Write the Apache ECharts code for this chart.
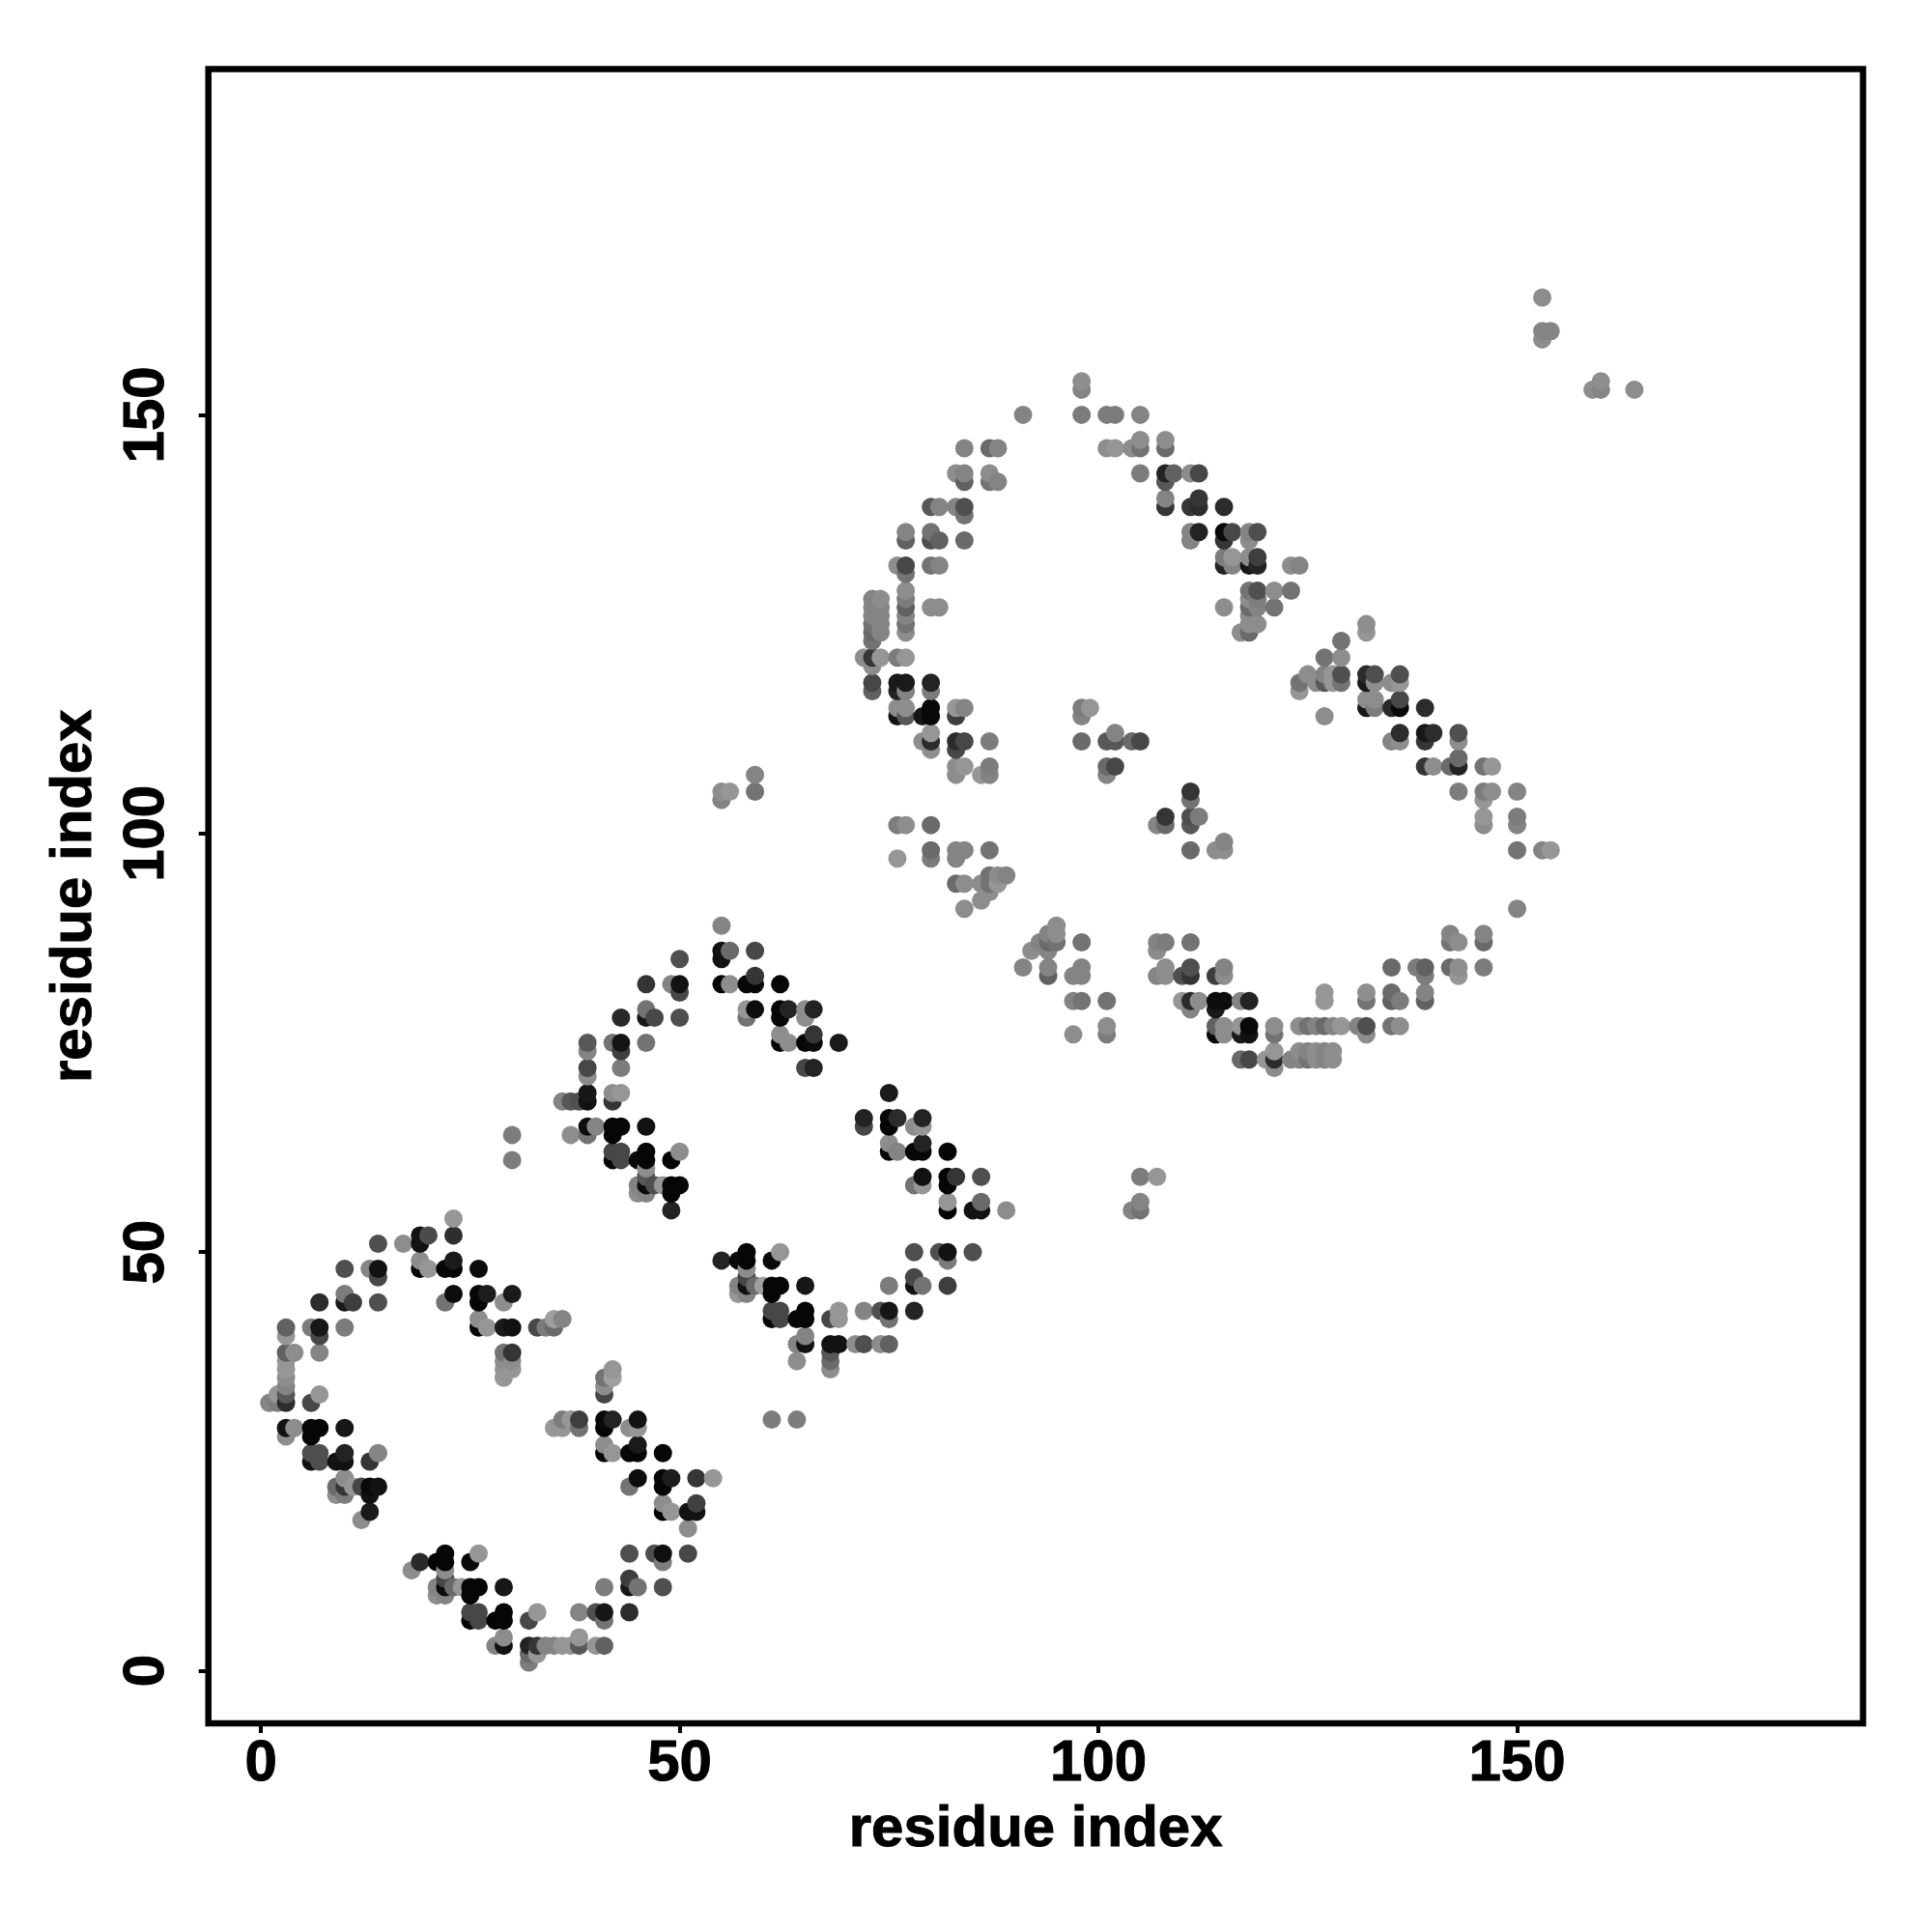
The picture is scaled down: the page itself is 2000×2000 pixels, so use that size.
<!DOCTYPE html>
<html><head><meta charset="utf-8">
<script src="https://cdn.jsdelivr.net/npm/echarts@6/dist/echarts.min.js"></script>
<style>html,body{margin:0;background:#fff}#c{width:2000px;height:2000px}</style></head>
<body><div id="c"></div>
<script>
const tickValues = [0, 50, 100, 150];
const axisTitle = 'residue index';
// each entry: [residue i, residue j, grey level]
const firstLoopTop = [
[1,32,0x78],[2,32,0x70],[2,33,0x88],[3,32,0x28],[3,33,0x50],[3,34,0x78],[3,35,0x80],[3,36,0x88],[3,37,0x88],[3,38,0x58],[3,40,0x88],[3,41,0x58],[4,38,0x80],
[6,32,0x40],[7,33,0x88],[6,41,0x70],[7,38,0x78],[7,40,0x40],[7,41,0x15],[7,44,0x28],[10,41,0x70],[10,44,0x18],[10,45,0x70],[11,44,0x38],[10,48,0x48],
[13,48,0x78],[14,44,0x48],[14,47,0x40],[14,48,0x10],[14,51,0x48],[17,51,0x80],[19,48,0x05],[19,49,0x80],[19,51,0x10],[19,52,0x10],[20,48,0x88],[20,52,0x44],
[22,44,0x68],[22,48,0x05],[23,45,0x0c],[23,48,0x05],[23,49,0x18],[23,52,0x2a],[23,54,0x88],[26,41,0x05],[26,42,0x80],[26,44,0x05],[26,45,0x05],[26,48,0x0a],
[27,41,0x88],[27,45,0x1a],[29,35,0x88],[29,36,0x88],[29,37,0x80],[29,38,0x68],[29,41,0x18],[29,44,0x80],[30,36,0x88],[30,37,0x80],[30,38,0x30],[30,41,0x10],[30,45,0x18],
[30,61,0x70],[30,64,0x70],[33,41,0x40],[34,41,0x70],[35,41,0x60],[35,42,0x90],[36,42,0x78],
[41,33,0x40],[41,34,0x80],[41,35,0x68],[42,35,0x90],[42,36,0x88]
];
const firstLoopSide = [
[3,28,0x80],[3,29,0x10],[4,29,0x80],[6,28,0x05],[6,29,0x05],[7,29,0x05],[10,29,0x15],[6,25,0x10],[6,26,0x48],[7,25,0x48],[7,26,0x48],[9,25,0x10],[10,25,0x10],[10,26,0x20],
[13,25,0x30],[14,26,0x78],[10,23,0x80],[9,21,0x80],[9,22,0x60],[10,21,0x70],[10,22,0x30],[11,22,0x88],[12,22,0x40],[13,21,0x10],[13,22,0x08],[14,22,0x10],[13,19,0x18],[12,18,0x80],
[18,12,0x80],[19,13,0x25],[21,13,0x05],[22,12,0x80],[22,13,0x05],[22,14,0x05],[25,13,0x08],[26,14,0x88],[22,11,0x40],[21,9,0x80],[21,10,0x78],[22,9,0x78],[22,10,0x0a],[23,10,0x60],[24,10,0x88],
[25,9,0x05],[25,10,0x05],[26,10,0x05],[29,10,0x15],[25,6,0x05],[25,7,0x40],[26,6,0x40],[26,7,0x40],[28,6,0x05],[29,6,0x05],[29,7,0x05],[29,4,0x80],[28,3,0x78],[29,3,0x10],
[32,1,0x70],[32,2,0x60],[32,3,0x20],[32,6,0x40],[33,2,0x88],[33,3,0x30],[33,7,0x88],[34,3,0x78],[35,3,0x78],[36,3,0x88],[37,3,0x88],[38,3,0x50],[38,4,0x88],[38,7,0x78],
[40,3,0x88],[41,3,0x58],[40,7,0x48],[41,6,0x68],[41,7,0x15],[41,10,0x70],[44,7,0x28],[44,10,0x15],[44,11,0x38],[45,10,0x68],[44,14,0x48],[47,14,0x48],[48,10,0x48],[48,13,0x70],[48,14,0x0e],[51,14,0x40],
[51,17,0x80],[48,19,0x05],[48,20,0x80],[49,19,0x88],[51,19,0x10],[52,19,0x10],[52,20,0x3a],[44,22,0x68],[45,23,0x0c],[48,22,0x05],[48,23,0x05],[49,23,0x1a],[52,23,0x30],[54,23,0x88],
[41,26,0x05],[41,27,0x80],[42,26,0x88],[44,26,0x05],[45,26,0x05],[45,27,0x18],[48,26,0x05],
[35,29,0x88],[36,29,0x88],[36,30,0x70],[37,30,0x88],[38,29,0x68],[38,30,0x38],[41,29,0x05],[41,30,0x08],[42,30,0x20],[44,29,0x80],[45,29,0x88],[45,30,0x10],
[61,30,0x70],[64,30,0x70]
];
const secondLoopTop = [
[36,68,0x78],[37,64,0x80],[37,68,0x50],[38,68,0x48],[39,64,0x68],[39,65,0x0c],[39,68,0x10],[39,69,0x15],[39,71,0x80],[39,72,0x40],[39,74,0x78],[39,75,0x50],[40,65,0x78],
[42,61,0x05],[42,62,0x40],[42,64,0x05],[42,65,0x05],[42,68,0x30],[42,69,0x80],[42,75,0x68],[43,61,0x40],[43,62,0x40],[43,65,0x05],[43,69,0x88],[43,72,0x70],[43,74,0x38],[43,75,0x12],[43,78,0x25],
[45,57,0x80],[45,58,0x78],[45,61,0x08],[46,57,0x78],[46,58,0x0a],[46,59,0x50],[46,60,0x80],[46,61,0x05],[46,62,0x05],[46,65,0x10],[46,75,0x68],[46,78,0x15],[46,79,0x68],[46,82,0x30],[47,58,0x48],[47,78,0x40],
[48,58,0x88],[49,55,0x20],[49,57,0x05],[49,58,0x05],[49,61,0x05],[49,82,0x78],[50,58,0x05],[50,62,0x80],[50,78,0x48],[50,81,0x40],[50,82,0x10],[50,85,0x48],
[55,82,0x05],[55,85,0x10],[55,86,0x10],[55,89,0x78],[56,82,0x80],[56,86,0x60],[58,78,0x68],[58,79,0x88],[58,82,0x05],[59,79,0x0c],[59,82,0x05],[59,83,0x30],[59,86,0x40],
[62,75,0x05],[62,76,0x80],[62,78,0x05],[62,79,0x05],[62,82,0x05],[63,75,0x80],[63,79,0x20],[65,72,0x40],[65,75,0x05],[65,78,0x80],[65,79,0x80],[66,72,0x20],[66,75,0x0a],[66,76,0x30],[66,79,0x20],[69,75,0x18],
[72,65,0x40],[72,66,0x20],[75,69,0x18],[75,62,0x05],[75,63,0x80],[75,65,0x05],[75,66,0x05],[76,62,0x78],[76,66,0x28],[78,62,0x05],[78,65,0x80],[79,62,0x05],[79,63,0x20],[79,65,0x88],[79,66,0x20],[82,62,0x05],
[78,58,0x68],[79,58,0x88],[79,59,0x10],[82,55,0x05],[82,56,0x88],[82,58,0x05],[82,59,0x05],[83,59,0x30],[85,55,0x10],[86,55,0x10],[86,56,0x60],[86,59,0x48],[89,55,0x80]
];
const secondLoopSide = [
[55,49,0x20],[57,45,0x88],[57,46,0x78],[57,49,0x08],[58,45,0x78],[58,46,0x10],[58,47,0x40],[58,48,0x80],[58,49,0x05],[58,50,0x05],[59,46,0x60],[60,46,0x90],
[61,42,0x05],[61,43,0x40],[61,45,0x05],[61,46,0x05],[61,49,0x08],[62,42,0x40],[62,43,0x40],[62,46,0x05],[62,50,0x88],[64,37,0x80],[64,39,0x78],[64,42,0x05],[65,39,0x10],[65,40,0x78],[65,42,0x05],[65,43,0x05],[65,46,0x15],
[68,36,0x80],[68,37,0x60],[68,38,0x50],[68,39,0x10],[68,42,0x40],[69,39,0x10],[69,42,0x88],[69,43,0x88],[71,39,0x80],[72,39,0x48],[72,43,0x78],[74,39,0x80],[74,43,0x48],[75,39,0x58],[75,42,0x68],[75,43,0x15],[75,46,0x70],
[78,43,0x20],[78,46,0x10],[78,47,0x40],[78,50,0x48],[79,46,0x68],[81,50,0x48],[82,46,0x38],[82,49,0x70],[82,50,0x10],[85,50,0x48],
[55,104,0x78],[55,105,0x80],[56,105,0x88],[59,105,0x68],[59,107,0x78],[104,55,0x78],[105,55,0x68],[105,56,0x78],[105,59,0x70],[107,59,0x88]
];
const thirdLoopTop = [
[72,121,0x80],[73,120,0x80],[73,121,0x30],[74,121,0x88],[76,121,0x70],[77,121,0x88],
[73,123,0x68],[73,124,0x60],[73,125,0x68],[73,126,0x78],[73,127,0x78],[73,128,0x78],[74,124,0x78],[74,125,0x78],[74,126,0x78],[74,127,0x78],[74,128,0x80],
[77,124,0x80],[77,125,0x68],[77,126,0x78],[77,127,0x58],[77,128,0x70],[77,129,0x80],[80,127,0x80],[81,127,0x80],[76,132,0x80],[77,131,0x68],[77,132,0x40],[80,132,0x68],[81,132,0x78],
[77,135,0x58],[77,136,0x78],[80,135,0x48],[80,136,0x68],[81,135,0x58],[84,135,0x60],[80,139,0x50],[81,139,0x78],[83,139,0x78],[84,138,0x68],[84,139,0x48],
[83,143,0x80],[84,142,0x58],[84,143,0x78],[87,142,0x68],[87,143,0x80],[88,142,0x78],[84,146,0x78],[87,146,0x60],[88,146,0x78],[91,150,0x78],
[98,150,0x70],[98,153,0x78],[98,154,0x80],[101,150,0x70],[102,150,0x70],[105,150,0x78],[101,146,0x80],[102,146,0x88],[104,146,0x80],[105,146,0x68],[105,147,0x80],[105,143,0x70],
[108,146,0x60],[108,147,0x80],[108,142,0x50],[108,143,0x20],[109,143,0x58],[111,143,0x80],[112,143,0x40],[108,139,0x30],[108,140,0x78],[111,139,0x30],[112,139,0x28],[112,140,0x30],[115,139,0x28],
[111,135,0x78],[111,136,0x78],[112,136,0x20],[115,135,0x30],[115,136,0x08],[116,136,0x40],[118,135,0x80],[118,136,0x78],[119,136,0x48],
[115,132,0x20],[115,133,0x70],[116,132,0x78],[116,133,0x88],[118,132,0x15],[118,133,0x80],[119,132,0x20],[119,133,0x38],[123,132,0x80],[124,132,0x78],
[115,127,0x80],[118,124,0x60],[117,124,0x80],[118,125,0x80],[118,126,0x80],[118,127,0x60],[118,128,0x80],[118,129,0x68],[119,125,0x80],[119,127,0x78],[119,128,0x70],[119,129,0x48],[121,127,0x68],[121,129,0x80],[123,129,0x68],
[76,114,0x10],[76,115,0x80],[76,117,0x20],[76,118,0x18],[77,114,0x50],[77,115,0x80],[77,117,0x78],[77,118,0x18],[73,117,0x58],[73,118,0x40],[79,114,0x15],[80,114,0x08],[80,115,0x08],[80,117,0x70],[80,118,0x20],
[79,111,0x80],[80,110,0x80],[80,111,0x28],[80,112,0x88],[83,110,0x40],[83,111,0x28],[83,114,0x38],[83,115,0x88],[84,111,0x40],[84,115,0x78],[87,111,0x70],
[83,107,0x80],[83,108,0x80],[84,108,0x88],[86,107,0x88],[87,107,0x78],[87,108,0x70],
[76,97,0x88],[76,101,0x70],[77,101,0x80],[80,97,0x70],[80,98,0x60],[80,101,0x60],[83,94,0x60],[83,97,0x78],[83,98,0x78],[84,91,0x80],[84,94,0x80],[84,98,0x78],[86,92,0x80],[86,94,0x80],[87,93,0x80],[87,94,0x68],[87,95,0x68],[87,98,0x68],[88,94,0x88],[88,95,0x80],[89,95,0x78]
];
const thirdLoopInner = [
[98,111,0x60],[98,114,0x78],[98,115,0x70],[99,115,0x88],[101,107,0x78],[101,108,0x60],[101,111,0x50],[102,108,0x40],[102,111,0x50],[102,112,0x78],[104,111,0x60],[105,111,0x40],
[107,101,0x78],[108,101,0x60],[108,102,0x30],[111,98,0x60],[111,101,0x50],[111,102,0x48],[111,104,0x68],[111,105,0x30],[112,102,0x70],[114,98,0x80],[115,98,0x80],[115,99,0x78],
[91,84,0x78],[92,86,0x80],[93,87,0x78],[94,83,0x58],[94,84,0x78],[94,86,0x78],[94,87,0x60],[94,88,0x78],[95,87,0x68],[95,88,0x80],[95,89,0x80],[98,87,0x68],[97,83,0x78],[98,83,0x78],[98,84,0x78],
[97,76,0x80],[97,80,0x78],[98,80,0x68],[101,76,0x70],[101,77,0x80],[101,80,0x68],
[107,83,0x78],[107,86,0x80],[107,87,0x78],[108,83,0x80],[108,84,0x80],[108,87,0x70],[111,87,0x68],[110,83,0x48],[111,83,0x30],[111,84,0x48],[114,83,0x38],[115,83,0x80],[115,84,0x78],
[110,80,0x88],[111,79,0x78],[111,80,0x28],[112,80,0x80],[114,79,0x18],[114,80,0x0c],[115,80,0x0c],[117,80,0x78],[118,80,0x20],[114,76,0x08],[114,77,0x58],[115,76,0x80],[115,77,0x80],[117,76,0x18],[117,77,0x88],[118,76,0x10],[118,77,0x08],
[121,76,0x68],[121,77,0x80],[117,73,0x60],[118,73,0x40],[120,73,0x88],[121,72,0x80],[121,73,0x28],[121,74,0x88],
[123,73,0x78],[124,73,0x78],[125,73,0x68],[126,73,0x80],[127,73,0x78],[128,73,0x80],[124,74,0x80],[125,74,0x78],[126,74,0x80],[127,74,0x78],[128,74,0x80],
[124,77,0x80],[125,77,0x68],[126,77,0x78],[127,77,0x60],[128,77,0x78],[129,77,0x88],[131,77,0x78],[132,76,0x80],[132,77,0x48],[135,77,0x68],[136,77,0x80],
[127,80,0x88],[127,81,0x88],[132,80,0x68],[132,81,0x80],[135,80,0x58],[135,81,0x60],[136,80,0x70],[139,80,0x58],[139,81,0x78],
[135,84,0x60],[138,84,0x70],[139,83,0x70],[139,84,0x58],[142,84,0x60],[143,83,0x88],[143,84,0x80],[146,84,0x70],[142,87,0x68],[142,88,0x78],[143,87,0x80],[146,87,0x60],[146,88,0x78],[150,91,0x78]
];
const thirdLoopOuter = [
[129,123,0x68],[127,121,0x68],[129,121,0x80],[132,124,0x88],[132,125,0x80],[125,119,0x80],[127,119,0x78],[128,119,0x88],[129,119,0x48],[124,117,0x88],[124,118,0x68],[126,118,0x80],[127,118,0x50],[128,118,0x88],[129,118,0x68],[127,114,0x80],
[132,118,0x18],[132,119,0x28],[133,118,0x80],[133,119,0x48],[135,118,0x80],[136,118,0x88],[136,119,0x48],[132,115,0x15],[132,116,0x80],[133,115,0x70],[133,116,0x80],[135,115,0x25],[136,115,0x08],[136,116,0x40],[139,115,0x28],
[135,111,0x78],[136,111,0x80],[136,112,0x28],[139,111,0x30],[139,112,0x15],[140,112,0x28],[143,111,0x80],[143,112,0x48],[139,108,0x30],[140,108,0x80],[142,108,0x60],[143,108,0x20],[143,109,0x60],[146,108,0x68],[147,108,0x88],
[143,105,0x70],[146,104,0x88],[146,105,0x70],[147,105,0x80],[150,105,0x78],[146,101,0x80],[146,102,0x88],[150,101,0x78],[150,102,0x70],[150,98,0x68],[153,98,0x78],[154,98,0x88],
[153,159,0x80],[153,160,0x78],[153,164,0x80],[154,160,0x78],[159,153,0x80],[160,153,0x78],[160,154,0x80],[164,153,0x80]
];

const contacts = [].concat(firstLoopTop, firstLoopSide, secondLoopTop, secondLoopSide, thirdLoopTop, thirdLoopInner, thirdLoopOuter)
  .sort((a, b) => a[0] - b[0] || a[1] - b[1]);

const chart = echarts.init(document.getElementById('c'), null, {renderer: 'canvas'});
const font = 'Liberation Sans';
function axis(rotate, margin, gap) {
  return {
    type: 'value', min: -6.27, max: 191.3,
    name: axisTitle, nameLocation: 'middle', nameGap: gap,
    nameTextStyle: {fontFamily: font, fontWeight: 'bold', fontSize: 60, color: '#000', textBorderColor: '#000', textBorderWidth: 1},
    splitLine: {show: false},
    axisLine: {show: false, onZero: false},
    axisTick: {show: true, length: 10, lineStyle: {color: '#000', width: 4}, customValues: tickValues},
    axisLabel: {show: true, rotate, margin, fontFamily: font, fontWeight: 'bold', fontSize: 60, color: '#000', textBorderColor: '#000', textBorderWidth: 1, customValues: tickValues}
  };
}
chart.setOption({
  animation: false,
  backgroundColor: '#fff',
  grid: {left: 215.7, top: 71.4, width: 1712.9, height: 1712.6, show: true, borderColor: '#000', borderWidth: 6.5, backgroundColor: 'transparent'},
  xAxis: axis(0, 12, 80),
  yAxis: axis(90, 33, 108),
  series: [{
    type: 'scatter', symbol: 'circle', symbolSize: 19, large: false, clip: false,
    data: contacts.map(c => [c[0], c[1]]),
    itemStyle: {opacity: 1, color: p => { const g = contacts[p.dataIndex][2]; const v = Math.round(g + g / 0x88 * 14); return `rgb(${v},${v},${v})`; }}
  }]
});
</script></body></html>
